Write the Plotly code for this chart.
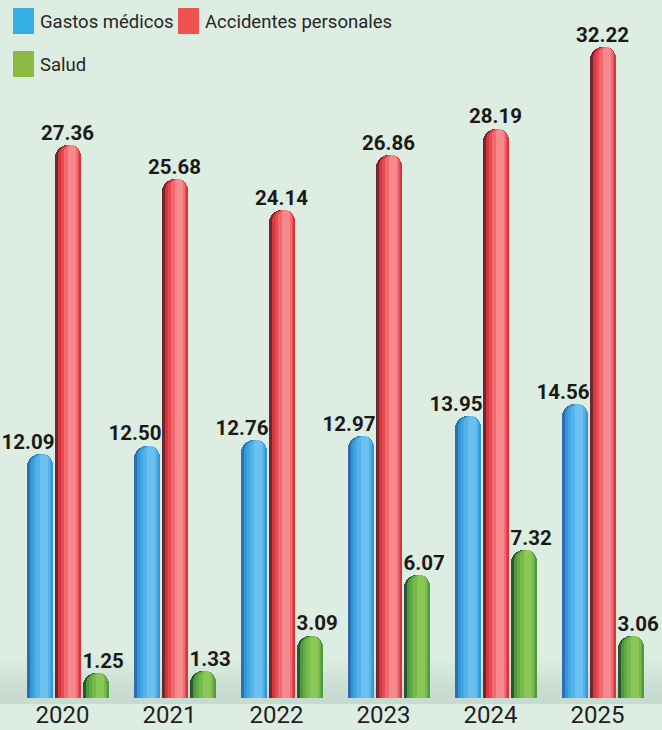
import plotly.graph_objects as go

years = ["2020", "2021", "2022", "2023", "2024", "2025"]
series_names = ["Gastos médicos", "Accidentes personales", "Salud"]
gastos_medicos = [12.09, 12.50, 12.76, 12.97, 13.95, 14.56]
accidentes_personales = [27.36, 25.68, 24.14, 26.86, 28.19, 32.22]
salud = [1.25, 1.33, 3.09, 6.07, 7.32, 3.06]

BG = "#deede2"
W, H = 662, 730
ML, MR, MT, MB = 14, 6, 0, 32
PX_PER_UNIT = 20.2
plot_h = H - MT - MB

series = [gastos_medicos, accidentes_personales, salud]
offsets = [-0.2617, 0.0, 0.2617]
bw = 0.243
# layers: (width fraction, shift fraction of bw, color)
layers = [
    [(1.0, 0.0, "#2a6fb0"), (0.88, 0.06, "#3597d8"), (0.72, 0.10, "#40a6e4"),
     (0.52, 0.14, "#55b3ea"), (0.30, 0.16, "#6cc0ef")],
    [(1.0, 0.0, "#6e282d"), (0.88, 0.06, "#d8363f"), (0.72, 0.10, "#e84a52"),
     (0.52, 0.14, "#f06a70"), (0.30, 0.16, "#f5898d")],
    [(1.0, 0.0, "#2b5530"), (0.88, 0.06, "#4e9a3e"), (0.72, 0.10, "#62ab45"),
     (0.52, 0.14, "#76ba4c"), (0.30, 0.16, "#8cc858")],
]
legend_colors = ["#35aee2", "#ef5350", "#8bbb43"]

FONT = "Roboto"

fig = go.Figure()

for si, vals in enumerate(series):
    n = len(vals)
    for wf, sh, col in layers[si]:
        xs = [i + offsets[si] + sh * bw for i in range(n)]
        fig.add_trace(go.Bar(
            x=xs, y=vals, width=[bw * wf] * n,
            marker=dict(color=col, cornerradius="50%", line=dict(width=0)),
            showlegend=False, hoverinfo="skip",
        ))

# value labels
label_cfg = [("top left", 0.58), ("top center", 0.0), ("top right", -0.5)]
for si, vals in enumerate(series):
    pos, side = label_cfg[si]
    xs = [i + offsets[si] + side * bw for i in range(len(years))]
    fig.add_trace(go.Scatter(
        x=xs, y=vals, mode="text", text=[f"{v:.2f}" for v in vals],
        textposition=pos,
        textfont=dict(family=FONT, size=20.5, color="#1a1a1a", weight="bold"),
        showlegend=False, hoverinfo="skip", cliponaxis=False,
    ))

def px_x(p):
    return (p - ML) / (W - ML - MR)

def px_y(p):
    return (H - MB - p) / plot_h

# soft floor shadow (decoration)
shapes = []
for h_px in (40, 32, 25, 19, 13, 8):
    shapes.append(dict(type="rect", xref="paper", yref="paper",
                       x0=-0.05, x1=1.05, y0=-6 / plot_h, y1=h_px / plot_h,
                       fillcolor="#4a6652", opacity=0.018, line=dict(width=0),
                       layer="below"))

legend_pos = [(13, 8), (178, 8), (13, 51)]
annotations = []
for name, col, (lx, ly) in zip(series_names, legend_colors, legend_pos):
    shapes.append(dict(type="rect", xref="paper", yref="paper",
                       x0=px_x(lx), x1=px_x(lx + 21), y0=px_y(ly + 26), y1=px_y(ly),
                       fillcolor=col, line=dict(width=0), layer="above"))
    annotations.append(dict(xref="paper", yref="paper", x=px_x(lx + 25), y=px_y(ly + 14),
                            xanchor="left", yanchor="middle", text=name, showarrow=False,
                            font=dict(family=FONT, size=18.5, color="#262626")))

fig.update_layout(
    width=W, height=H,
    margin=dict(l=ML, r=MR, t=MT, b=MB),
    paper_bgcolor=BG, plot_bgcolor=BG,
    barmode="overlay", bargap=0,
    shapes=shapes, annotations=annotations,
    xaxis=dict(range=[-0.5, len(years) - 0.5], tickmode="array",
               tickvals=list(range(len(years))), ticktext=years,
               showgrid=False, zeroline=False, showline=False, ticks="",
               tickfont=dict(family=FONT, size=24, color="#1f1f1f"),
               ticklabelshift=-5, ticklabelstandoff=0, fixedrange=True),
    yaxis=dict(range=[0, plot_h / PX_PER_UNIT], visible=False, fixedrange=True),
)

fig.write_html("out.html", post_script="document.body.style.margin='0';",
               config={"displayModeBar": False})
